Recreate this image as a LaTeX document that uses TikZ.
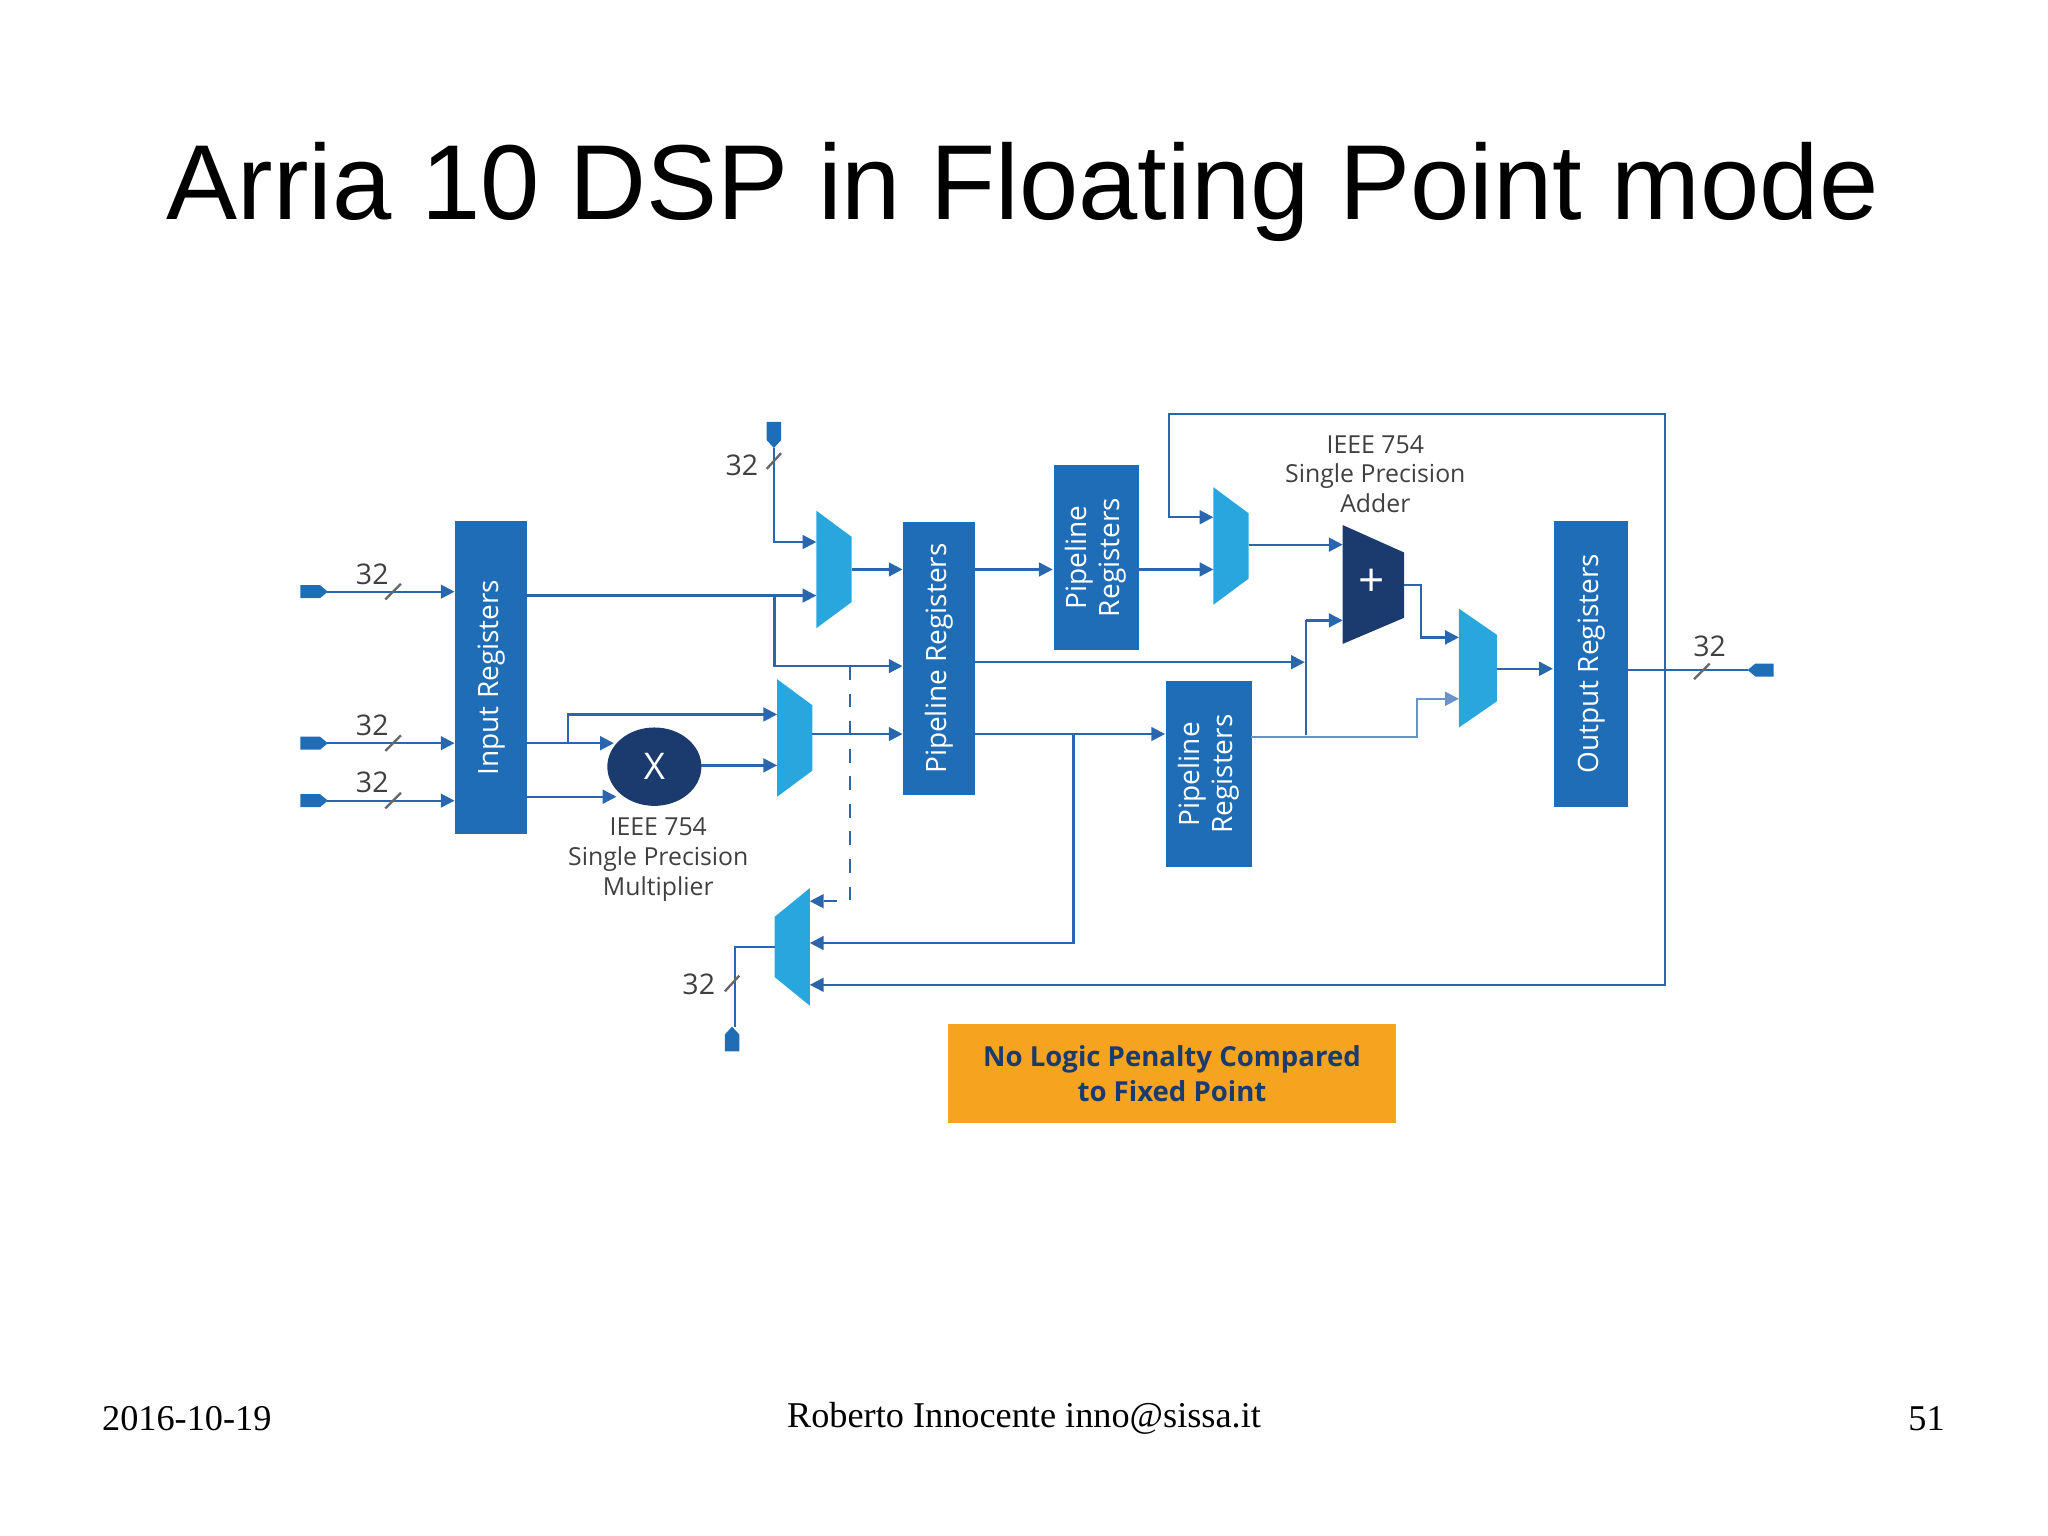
\documentclass[tikz,border=0pt]{standalone}
\usepackage{fontspec}
\setmainfont{Liberation Serif}
\newfontfamily\titlef{Liberation Sans}
\newfontfamily\diaf{Open Sans}
\usetikzlibrary{arrows.meta,shapes.geometric}
\definecolor{regb}{HTML}{1F6DB6}
\definecolor{muxb}{HTML}{29A6DE}
\definecolor{navy}{HTML}{1B3B6F}
\definecolor{wire}{HTML}{2A66AD}
\definecolor{orng}{HTML}{F6A31F}
\begin{document}
\begin{tikzpicture}[x=0.01cm,y=-0.01cm,
  reg/.style={fill=regb,text=white,font=\diaf\fontsize{6.1pt}{7.3pt}\selectfont,align=center,inner sep=0pt},
  w/.style={draw=wire,line width=0.5pt},
  a/.style={w,-{Triangle[length=3pt,width=3pt]}},
  lbl/.style={text=black!75,font=\diaf\fontsize{6.2pt}{7pt}\selectfont,inner sep=0pt},
  capt/.style={text=black!75,align=center,font=\diaf\fontsize{5.4pt}{6.5pt}\selectfont,inner sep=0pt},
  mux/.style={fill=muxb},
  port/.style={fill=regb}]
\useasboundingbox (0,0) rectangle (1568,1176);
% title and footer
\node[font=\titlef\fontsize{23.2pt}{27pt}\selectfont] (title) at (783,147) {Arria 10 DSP in Floating Point mode};
\node[font=\fontsize{7.9pt}{9pt}\selectfont] (date) at (143,1086) {2016-10-19};
\node[font=\fontsize{7.9pt}{9pt}\selectfont] (auth) at (784,1086) {Roberto Innocente inno@sissa.it};
\node[font=\fontsize{7.9pt}{9pt}\selectfont] (pg) at (1475,1086) {51};
% registers
\node[reg,anchor=north west,minimum width=0.55cm,minimum height=2.4cm] (ir) at (348,398) {\rotatebox{90}{Input Registers}};
\node[reg,anchor=north west,minimum width=0.55cm,minimum height=2.09cm] (pb) at (691,399) {\rotatebox{90}{Pipeline Registers}};
\node[reg,anchor=north west,minimum width=0.65cm,minimum height=1.42cm] (pt) at (806,355) {\rotatebox{90}{\begin{tabular}{@{}c@{}}Pipeline\\Registers\end{tabular}}};
\node[reg,anchor=north west,minimum width=0.66cm,minimum height=1.42cm] (pl) at (892,521) {\rotatebox{90}{\begin{tabular}{@{}c@{}}Pipeline\\Registers\end{tabular}}};
\node[reg,anchor=north west,minimum width=0.57cm,minimum height=2.19cm] (or) at (1189,398) {\rotatebox{90}{Output Registers}};
% multiplier
\node[ellipse,fill=navy,minimum width=0.72cm,minimum height=0.6cm,text=white,font=\diaf\fontsize{8pt}{9pt}\selectfont,inner sep=0pt] (mul) at (501,587) {X};
\node[capt] (mull) at (504,658) {IEEE 754\\Single Precision\\Multiplier};
\node[capt] (addl) at (1053,363) {IEEE 754\\Single Precision\\Adder};
% muxes
\fill[mux] (625,391) -- (652,411) -- (652,461) -- (625,481) -- cycle;
\fill[mux] (595,520) -- (622,540) -- (622,590) -- (595,610) -- cycle;
\fill[mux] (620,680) -- (593,702) -- (593,748) -- (620,770) -- cycle;
\fill[mux] (929,373) -- (956,393) -- (956,443) -- (929,463) -- cycle;
\fill[mux] (1117,466) -- (1146,486) -- (1146,537) -- (1117,557) -- cycle;
\fill[navy] (1028,402) -- (1075,423) -- (1075,473) -- (1028,493) -- cycle;
\node[text=white,font=\diaf\fontsize{10pt}{10pt}\selectfont] (plus) at (1050,446) {+};
% ports
\fill[port] (230,448) -- (245,448) -- (251,453) -- (245,458) -- (230,458) -- cycle;
\fill[port] (230,564) -- (245,564) -- (251,569) -- (245,574) -- (230,574) -- cycle;
\fill[port] (230,608) -- (245,608) -- (251,613) -- (245,618) -- (230,618) -- cycle;
\fill[port] (587,323) -- (598,323) -- (598,337) -- (592.5,343) -- (587,337) -- cycle;
\fill[port] (555,805) -- (566,805) -- (566,792) -- (560.5,786) -- (555,792) -- cycle;
\fill[port] (1358,508) -- (1344,508) -- (1338,513) -- (1344,518) -- (1358,518) -- cycle;
% input wires
\draw[a] (250,453) -- (348,453);
\draw[a] (250,569) -- (348,569);
\draw[a] (250,613) -- (348,613);
\foreach \y in {453,569,613} \draw[w,black!60] (295,\y+6) -- (307,\y-6);
\node[lbl] (n1) at (285,440) {32};
\node[lbl] (n2) at (285,555) {32};
\node[lbl] (n3) at (285,599) {32};
% top port
\draw[a] (592.5,343) -- (592.5,415) -- (625,415);
\draw[w,black!60] (587,359) -- (598,347);
\node[lbl] (n4) at (568,356) {32};
% IR to mux1 and pipeline
\draw[a] (403,456) -- (625,456);
\draw[a] (593,456) -- (593,510) -- (691,510);
\draw[a,dashed] (651,510) -- (651,690) -- (620,690);
% IR to mult and mux2
\draw[a] (403,569) -- (470,569);
\draw[a] (435,569) -- (435,547) -- (595,547);
\draw[a] (403,610) -- (472,610);
\draw[a] (537,586) -- (595,586);
\draw[a] (652,436) -- (691,436);
\draw[a] (622,562) -- (691,562);
% pipeline big outputs
\draw[a] (745,436) -- (806,436);
\draw[a] (871,436) -- (929,436);
\draw[a] (745,507) -- (999,507);
\draw[a] (745,562) -- (892,562);
\draw[a] (822,562) -- (822,722) -- (620,722);
% adder region
\draw[a] (956,417) -- (1028,417);
\draw[w] (1000,563) -- (1000,475);
\draw[a] (1000,475) -- (1028,475);
\draw[a,draw=wire!70] (958,564) -- (1085,564) -- (1085,535) -- (1117,535);
\draw[a] (1075,448) -- (1088,448) -- (1088,488) -- (1117,488);
\draw[a] (1146,512) -- (1189,512);
% output
\draw[w] (1246,513) -- (1338,513);
\draw[w,black!60] (1297,520) -- (1309,508);
\node[lbl] (n5) at (1309,495) {32};
% feedback
\draw[a] (1275,513) -- (1275,317) -- (895,317) -- (895,396) -- (929,396);
\draw[a] (1275,513) -- (1275,754) -- (620,754);
% bottom port
\draw[w] (593,725) -- (563,725) -- (563,786);
\draw[w,black!60] (555,759) -- (566,747);
\node[lbl] (n6) at (535,754) {32};
% orange box
\node[fill=orng,minimum width=3.43cm,minimum height=0.76cm,anchor=north west,inner sep=0pt] (ob) at (725,783) {};
\node[text=navy,align=center,font=\diaf\bfseries\fontsize{6pt}{7.6pt}\selectfont] (obt) at (ob.center) {No Logic Penalty Compared\\to Fixed Point};
\end{tikzpicture}
\end{document}
